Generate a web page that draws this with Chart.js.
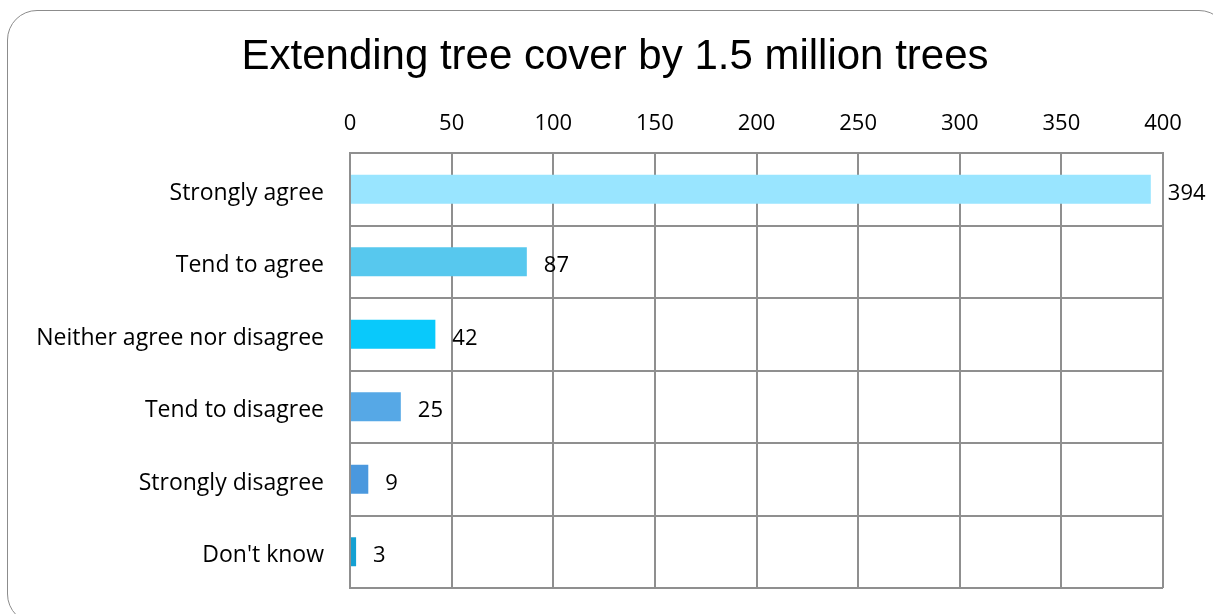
<!DOCTYPE html>
<html>
<head>
<meta charset="utf-8">
<script src="https://cdn.jsdelivr.net/npm/chart.js@4/dist/chart.umd.min.js"></script>
<style>
  html, body { margin: 0; padding: 0; background: #fff; overflow: hidden; }
  #wrap { position: relative; width: 1213px; height: 614px; }
  #frame {
    position: absolute; left: 7px; top: 10px; width: 1222px; height: 614px;
    border: 1px solid #8c8c8c; border-radius: 30px; box-sizing: border-box;
  }
  canvas { position: absolute; left: 0; top: 0; }
</style>
</head>
<body>
<div id="wrap">
  <div id="frame"></div>
  <canvas id="myChart" width="1213" height="614"></canvas>
</div>
<script>
const chartTitle = 'Extending tree cover by 1.5 million trees';
const categories = [
  'Strongly agree',
  'Tend to agree',
  'Neither agree nor disagree',
  'Tend to disagree',
  'Strongly disagree',
  "Don't know"
];
const responses = [394, 87, 42, 25, 9, 3];
const barColors = ['#99e5ff', '#57c8ee', '#09c9fb', '#56a8e6', '#4a98de', '#14a0d2'];
const xMax = 400;
const xStep = 50;

const labelFont = "'Open Sans', 'Noto Sans', sans-serif";

// title drawn by hand so it sits where the original does
const titlePlugin = {
  id: 'titlePlugin',
  afterDraw(chart) {
    const ctx = chart.ctx;
    ctx.save();
    ctx.font = "42px 'Liberation Sans', Arial, sans-serif";
    ctx.fillStyle = '#000';
    ctx.textAlign = 'center';
    ctx.textBaseline = 'middle';
    ctx.fillText(chartTitle, 615, 57);
    ctx.restore();
  }
};

// value labels just past the end of each bar
const valueLabels = {
  id: 'valueLabels',
  afterDatasetsDraw(chart) {
    const ctx = chart.ctx;
    const meta = chart.getDatasetMeta(0);
    ctx.save();
    ctx.font = '22px ' + labelFont;
    ctx.fillStyle = '#000';
    ctx.textAlign = 'left';
    ctx.textBaseline = 'middle';
    meta.data.forEach((bar, i) => {
      ctx.fillText(String(responses[i]), bar.x + 17, bar.y + 4);
    });
    ctx.restore();
  }
};

window.addEventListener('DOMContentLoaded', () => {
  const ctx = document.getElementById('myChart').getContext('2d');

  const config = {
    type: 'bar',
    data: {
      labels: categories,
      datasets: [{
        data: responses,
        backgroundColor: barColors,
        borderWidth: 0,
        categoryPercentage: 1,
        barPercentage: 0.4
      }]
    },
    plugins: [valueLabels, titlePlugin],
    options: {
      indexAxis: 'y',
      responsive: false,
      animation: false,
      layout: { padding: { left: 0, right: 50, top: 85, bottom: 26 } },
      plugins: {
        legend: { display: false },
        tooltip: { enabled: false },
        title: { display: false }
      },
      scales: {
        x: {
          position: 'top',
          min: 0,
          max: xMax,
          ticks: {
            stepSize: xStep,
            color: '#000',
            padding: 16,
            font: { family: labelFont, size: 22 }
          },
          grid: { color: '#8f8f8f', lineWidth: 2, drawTicks: false },
          border: { color: '#8f8f8f', width: 2 },
          afterFit(scale) { scale.height = 153 - 85; }
        },
        y: {
          ticks: {
            color: '#000',
            padding: 26,
            labelOffset: 4,
            font: { family: labelFont, size: 23 }
          },
          grid: { color: '#8f8f8f', lineWidth: 2, drawTicks: false },
          border: { color: '#8f8f8f', width: 2 },
          afterFit(scale) {
            scale.width = 350;
            scale.paddingTop = 0;
            scale.paddingBottom = 0;
          }
        }
      }
    }
  };

  const myChart = new Chart(ctx, config);
});
</script>
</body>
</html>
